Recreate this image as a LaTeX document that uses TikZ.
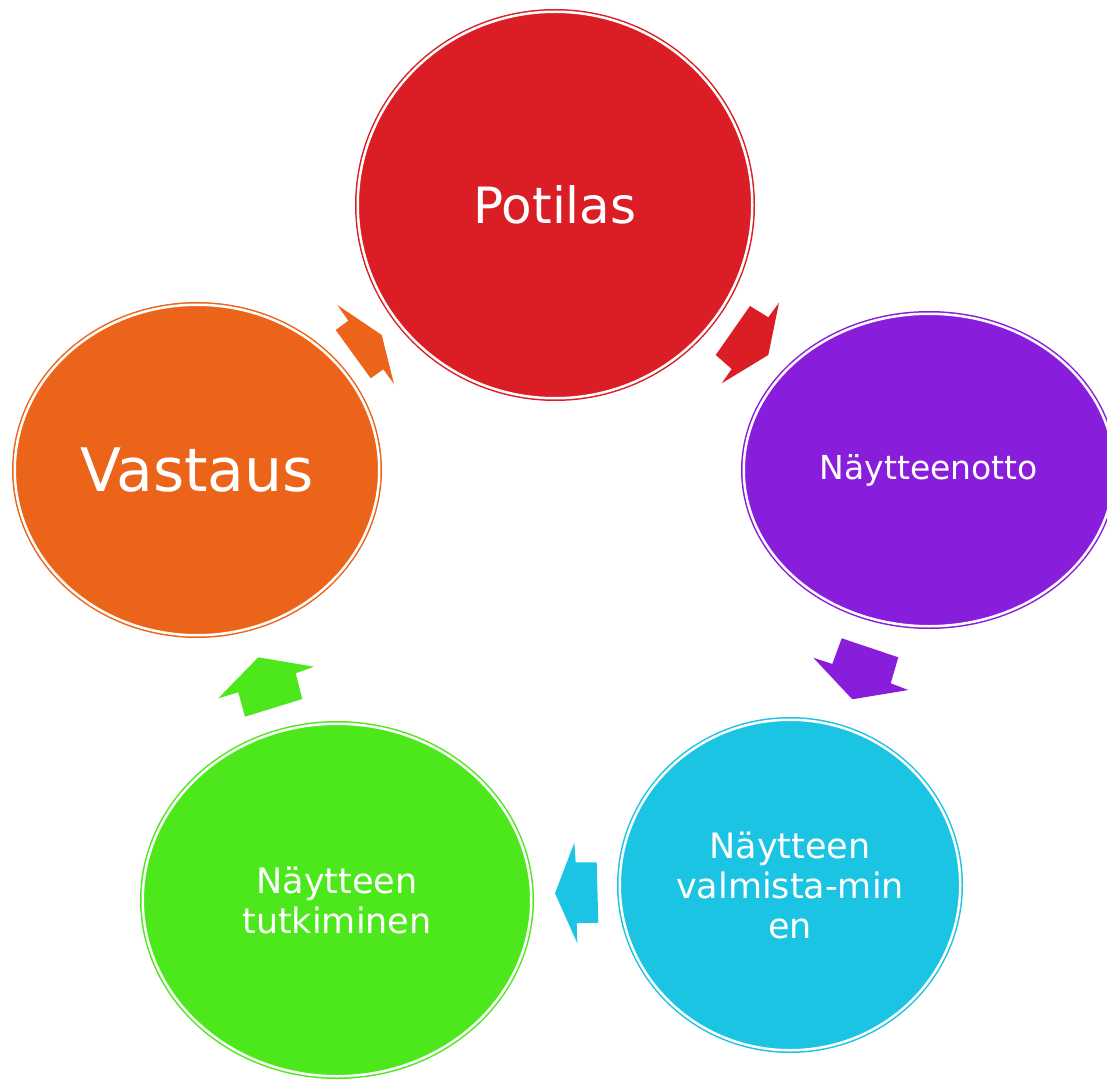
\documentclass[tikz,border=0pt]{standalone}
\usepackage{fontspec}
\setmainfont{DejaVu Sans}
\usetikzlibrary{shapes.geometric}
\definecolor{potilasred}{HTML}{DB1E26}
\definecolor{ottopurple}{HTML}{891DDC}
\definecolor{valmcyan}{HTML}{1BC4E3}
\definecolor{tutkgreen}{HTML}{4DE81C}
\definecolor{vastorange}{HTML}{EC6419}

\begin{document}
\begin{tikzpicture}
[every node/.style={inner sep=0pt, text=white, align=center},
 phase/.style={ellipse, fill=#1, draw=#1, line width=0.75pt, double=white, double distance=1.25pt}]
\useasboundingbox (0pt, 0pt) rectangle (553.5pt, -540pt);
\node (potilas) [phase=potilasred, minimum width=197.25pt, minimum height=193.25pt, font=\fontsize{25}{30}\selectfont] at (277.5pt, -102.5pt) {Potilas};
\node (otto) [phase=ottopurple, minimum width=185.25pt, minimum height=156.25pt, font=\fontsize{16.5}{20}\selectfont] at (464.5pt, -235pt) {Näytteenotto};
\node (valm) [phase=valmcyan, minimum width=170.25pt, minimum height=165.25pt, font=\fontsize{17.5}{20}\selectfont] at (395pt, -442.5pt) {Näytteen\\valmista-min\\en};
\node (tutk) [phase=tutkgreen, minimum width=194.25pt, minimum height=176.25pt, font=\fontsize{17.5}{20}\selectfont] at (168.5pt, -450pt) {Näytteen\\tutkiminen};
\node (vastaus) [phase=vastorange, minimum width=182.25pt, minimum height=165.25pt, font=\fontsize{30}{36}\selectfont] at (98.5pt, -235pt) {Vastaus};
\fill [potilasred] (375pt, -153pt) -- (384.15pt, -158.65pt) -- (389.5pt, -151.35pt) -- (384.15pt, -177.5pt) -- (360.85pt, -191.65pt) -- (365.85pt, -184.5pt) -- (357.85pt, -177.5pt) -- cycle;
\fill [ottopurple] (420.85pt, -319.15pt) -- (449.15pt, -328.65pt) -- (445.35pt, -341.65pt) -- (454.15pt, -345pt) -- (426.15pt, -349.65pt) -- (406.65pt, -328.85pt) -- (416.15pt, -332pt) -- cycle;
\fill [valmcyan] (287.15pt, -421.35pt) -- (287.85pt, -431.15pt) -- (298.35pt, -431.15pt) -- (299.15pt, -461.35pt) -- (288.35pt, -461.65pt) -- (288.65pt, -471.65pt) -- (277.5pt, -446.65pt) -- cycle;
\fill [tutkgreen] (129.15pt, -328.65pt) -- (157pt, -333.35pt) -- (147.85pt, -336.65pt) -- (151.15pt, -349.5pt) -- (122.5pt, -358.35pt) -- (119.15pt, -346.15pt) -- (109.15pt, -349.15pt) -- cycle;
\fill [vastorange] (168.65pt, -152.5pt) -- (190.85pt, -167.5pt) -- (197pt, -192pt) -- (191.65pt, -184.65pt) -- (185.35pt, -189.15pt) -- (167.85pt, -165pt) -- (174.15pt, -160.35pt) -- cycle;
\end{tikzpicture}
\end{document}
